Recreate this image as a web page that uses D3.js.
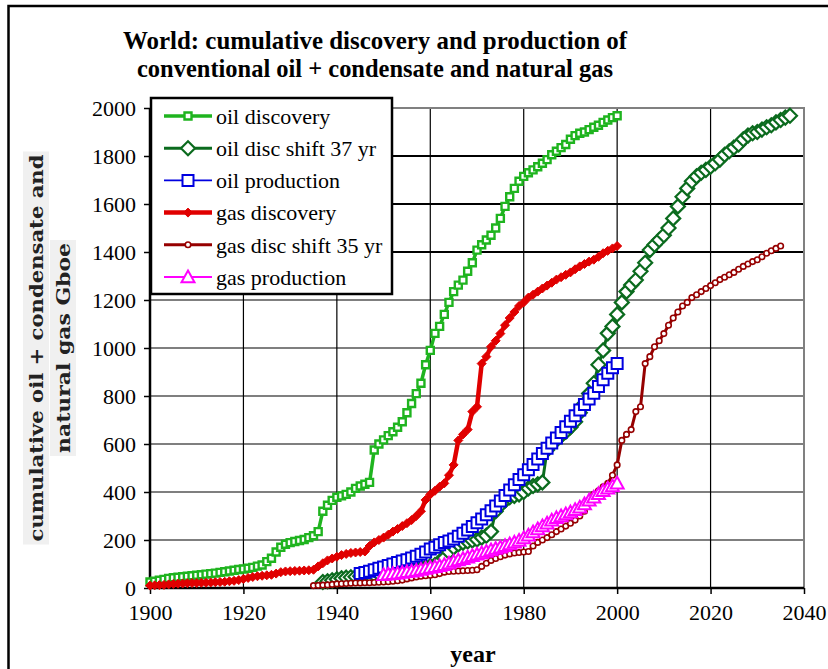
<!DOCTYPE html>
<html><head><meta charset="utf-8">
<script src="https://cdn.jsdelivr.net/npm/d3@7"></script>
<style>html,body{margin:0;padding:0;background:#fff}</style>
</head><body><div id="chart"></div>
<script>
// ---------- data ----------
const titleLines = ["World: cumulative discovery and production of", "conventional oil + condensate and natural gas"];
const yTitleLines = ["cumulative oil + condensate and", "natural gas  Gboe"];
const xTitle = "year";
const xTicks = [1900, 1920, 1940, 1960, 1980, 2000, 2020, 2040];
const yTicks = [0, 200, 400, 600, 800, 1000, 1200, 1400, 1600, 1800, 2000];

const oilDiscYears = d3.range(1900, 2001);
const oilDiscValues = [25,28,32,36,40,43,45,47,49,51,53,55,58,60,62,65,68,71,74,77,
  79,82,86,91,96,110,124,150,170,182,189,194,198,202,210,218,235,320,345,365,
  378,384,390,400,415,425,432,440,575,600,617,635,651,670,693,730,769,810,853,930,
  990,1061,1090,1140,1190,1235,1262,1283,1320,1355,1408,1430,1450,1470,1500,1540,1590,1630,1665,1695,
  1715,1730,1742,1755,1770,1785,1805,1820,1835,1848,1870,1885,1895,1900,1910,1920,1928,1940,1950,1960,1968];
const oilShiftYears = 37;

const oilProdYears = d3.range(1945, 2001);
const oilProdValues = [60,65,70,76,82,88,94,100,106,112,118,125,132,141,150,
  162,170,180,190,196,204,216,228,242,256,272,288,305,322,342,362,385,408,430,452,
  472,493,515,537,560,582,604,625,648,672,695,718,742,765,788,811,840,868,895,918,935];

const gasDiscYears = d3.range(1900, 2001);
const gasDiscValues = [10,11,12,13,15,17,18,19,20,21,21,22,22,23,24,25,26,28,30,33,
  38,42,46,49,51,53,55,60,66,69,70,71,72,73,74,76,90,103,115,123,
  130,137,142,146,148,150,152,175,190,200,210,222,235,246,258,270,283,300,320,367,
  390,405,422,436,470,513,615,640,660,735,755,935,964,1005,1030,1060,1095,1125,1150,1175,
  1190,1210,1222,1235,1248,1260,1272,1285,1295,1305,1315,1328,1340,1350,1360,1368,1380,1395,1405,1415,1425];
const gasShiftYears = 35;

const gasProdYears = d3.range(1950, 2001);
const gasProdValues = [55,57,59,61,64,67,70,73,77,81,85,88,92,97,103,110,116,122,128,134,
  140,146,152,158,164,170,176,183,190,198,208,220,233,246,258,270,282,292,300,308,
  316,326,336,350,365,378,392,405,415,425,436];

const seriesNames = ["oil discovery", "oil disc shift 37 yr", "oil  production", "gas discovery", "gas disc shift 35 yr", "gas production"];
const seriesColors = ["#1fb41f", "#0b6b1e", "#0000e0", "#e00000", "#960000", "#ff00ff"];

// ---------- layout ----------
const W = 828, H = 669;
const M = {left: 150, right: 804, top: 108, bottom: 588};
const serif = "'Liberation Serif','Times New Roman',Times,serif";
const svg = d3.select("#chart").append("svg").attr("width", W).attr("height", H)
  .style("font-family", serif);

// outer frame
svg.append("rect").attr("x", 8.5).attr("y", 6).attr("width", 1000).attr("height", 1000)
  .attr("fill", "none").attr("stroke", "#000").attr("stroke-width", 2.5);

const x = d3.scaleLinear().domain([1900, 2040]).range([M.left, M.right]);
const y = d3.scaleLinear().domain([0, 2000]).range([M.bottom, M.top]);

// gridlines
svg.append("g").selectAll("line").data(yTicks.filter(d => d > 0 && d < 2000)).join("line")
  .attr("x1", M.left).attr("x2", M.right).attr("y1", d => y(d)).attr("y2", d => y(d))
  .attr("stroke", "#000").attr("stroke-width", d => d >= 1400 ? 2 : 1.2);
svg.append("g").selectAll("line").data(xTicks.filter(d => d > 1900 && d < 2040)).join("line")
  .attr("y1", M.top).attr("y2", M.bottom).attr("x1", d => x(d)).attr("x2", d => x(d))
  .attr("stroke", "#000").attr("stroke-width", 1.2);
// top/right plot border (gray)
svg.append("path").attr("d", `M${M.left},${M.top}H${M.right}V${M.bottom}`)
  .attr("fill", "none").attr("stroke", "#808080").attr("stroke-width", 2);

// axes
const yAxis = svg.append("g").attr("transform", `translate(${M.left},0)`)
  .call(d3.axisLeft(y).tickValues(yTicks).tickSize(6).tickPadding(8).tickFormat(d3.format("d")));
const xAxis = svg.append("g").attr("transform", `translate(0,${M.bottom})`)
  .call(d3.axisBottom(x).tickValues(xTicks).tickSize(6).tickPadding(10).tickFormat(d3.format("d")));
[yAxis, xAxis].forEach(a => {
  a.attr("font-family", serif);
  a.select(".domain").attr("stroke", "#000").attr("stroke-width", 2.5);
  a.selectAll(".tick line").attr("stroke", "#000").attr("stroke-width", 1.5);
  a.selectAll(".tick text").attr("font-size", 22).attr("fill", "#000").attr("font-family", serif);
});
xAxis.select(".domain").attr("d", `M${M.left},0H${M.right}`);
yAxis.select(".domain").attr("d", `M0,${M.bottom}V${M.top}`);

// marker shapes
function markerPath(type, s) {
  const h = s / 2;
  if (type === "square") return `M${-h},${-h}H${h}V${h}H${-h}Z`;
  if (type === "diamond") return `M0,${-h}L${h},0L0,${h}L${-h},0Z`;
  if (type === "triangle") return `M0,${-h}L${h},${h * 0.8}L${-h},${h * 0.8}Z`;
  if (type === "circle") return `M${h},0A${h},${h} 0 1,1 ${-h},0A${h},${h} 0 1,1 ${h},0Z`;
}
const styles = [
  {lw: 3.5, m: "square", ms: 7, fill: "#fff", mw: 2.4},
  {lw: 3, m: "diamond", ms: 14, fill: "#fff", mw: 2.2},
  {lw: 1.8, m: "square", ms: 11, fill: "#fff", mw: 2},
  {lw: 4.5, m: "diamond", ms: 9, fill: "fill", mw: 1},
  {lw: 3, m: "circle", ms: 5.5, fill: "#fff", mw: 1.6},
  {lw: 1.8, m: "triangle", ms: 13, fill: "#fff", mw: 2}
];
const seriesData = [
  oilDiscYears.map((yr, i) => [yr, oilDiscValues[i]]),
  oilDiscYears.map((yr, i) => [yr + oilShiftYears, oilDiscValues[i]]),
  oilProdYears.map((yr, i) => [yr, oilProdValues[i]]),
  gasDiscYears.map((yr, i) => [yr, gasDiscValues[i]]),
  gasDiscYears.map((yr, i) => [yr + gasShiftYears, gasDiscValues[i]]),
  gasProdYears.map((yr, i) => [yr, gasProdValues[i]])
];
const line = d3.line().x(d => x(d[0])).y(d => y(d[1]));
seriesData.forEach((data, k) => {
  const st = styles[k], col = seriesColors[k];
  const g = svg.append("g");
  g.append("path").datum(data).attr("d", line).attr("fill", "none")
    .attr("stroke", col).attr("stroke-width", st.lw).attr("stroke-linejoin", "round");
  g.selectAll("path.m").data(data).join("path").attr("class", "m")
    .attr("transform", d => `translate(${x(d[0])},${y(d[1])})`)
    .attr("d", markerPath(st.m, st.ms))
    .attr("fill", st.fill === "fill" ? col : st.fill)
    .attr("stroke", col).attr("stroke-width", st.mw);
});

// legend
const lg = svg.append("g");
lg.append("rect").attr("x", 151).attr("y", 98).attr("width", 241).attr("height", 196)
  .attr("fill", "#fff").attr("stroke", "#000").attr("stroke-width", 2.5);
seriesNames.forEach((name, k) => {
  const st = styles[k], col = seriesColors[k], cy = 116 + k * 32.2;
  lg.append("line").attr("x1", 164).attr("x2", 212).attr("y1", cy).attr("y2", cy)
    .attr("stroke", col).attr("stroke-width", st.lw);
  lg.append("path").attr("transform", `translate(188,${cy})`).attr("d", markerPath(st.m, st.ms))
    .attr("fill", st.fill === "fill" ? col : st.fill).attr("stroke", col).attr("stroke-width", st.mw);
  lg.append("text").attr("x", 216).attr("y", cy).attr("dy", "0.35em").attr("font-size", 22)
    .attr("font-family", serif).attr("fill", "#000").text(name);
});

// title
const titleBase = [49, 77], titleLen = [504, 476];
titleLines.forEach((t, i) => {
  svg.append("text").attr("x", 375).attr("y", titleBase[i]).attr("text-anchor", "middle")
    .attr("font-size", 25).attr("font-weight", "bold").attr("fill", "#000").attr("font-family", serif)
    .attr("textLength", titleLen[i]).attr("lengthAdjust", "spacingAndGlyphs").text(t);
});
// x title
svg.append("text").attr("x", 473).attr("y", 662).attr("text-anchor", "middle").attr("font-family", serif)
  .attr("font-size", 24).attr("font-weight", "bold").attr("fill", "#000").text(xTitle);
// y title (rotated, two lines with light gray background)
const yLens = [387, 210], yCx = [36, 63];
yTitleLines.forEach((t, i) => {
  const cy = 348;
  svg.append("rect").attr("x", yCx[i] - 13).attr("y", cy - yLens[i] / 2 - 3)
    .attr("width", 26).attr("height", yLens[i] + 6).attr("fill", "#f0f0f0");
  svg.append("text").attr("transform", `translate(${yCx[i]},${cy}) rotate(-90)`)
    .attr("text-anchor", "middle").attr("dy", "0.35em")
    .attr("font-family", "'DejaVu Serif',serif").attr("font-weight", "bold").attr("font-size", 19)
    .attr("fill", "#222").attr("textLength", yLens[i]).attr("lengthAdjust", "spacingAndGlyphs").text(t);
});
</script></body></html>
